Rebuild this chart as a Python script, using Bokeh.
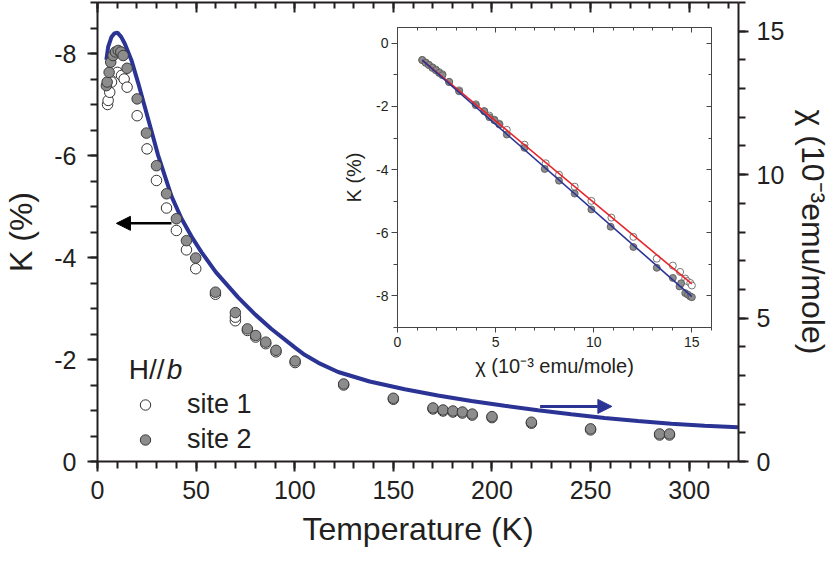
from bokeh.plotting import figure
from bokeh.models import (Range1d, LinearAxis, SingleIntervalTicker, Arrow,
                          NormalHead, Label, Legend, LegendItem, PrintfTickFormatter)
from bokeh.embed import file_html
from bokeh.resources import INLINE

FONT = "Liberation Sans"
TXT = "#231F20"
BLUE = "#2B3494"
RED = "#E8252A"
GRAY = "#8C8C8C"

# ---------------- main plot data ----------------
T_site1 = [5.1, 5.4, 6.2, 7.1, 10.1, 12.2, 13.5, 15.0, 20.1, 25.1, 29.9, 35.0, 40.0,
           45.1, 49.8, 59.8, 69.9, 69.9, 76.0, 80.2, 85.3, 90.5, 100.2, 124.8, 150.0,
           170.1, 175.2, 180.2, 185.0, 190.0, 200.0, 220.0, 250.0, 285.0, 290.0]
K_site1 = [-7.00, -7.08, -7.24, -7.44, -7.63, -7.57, -7.50, -7.34, -6.78, -6.13, -5.51,
           -4.97, -4.53, -4.15, -3.78, -3.28, -2.76, -2.83, -2.57, -2.44, -2.31, -2.15,
           -1.94, -1.50, -1.22, -1.03, -0.99, -0.97, -0.95, -0.91, -0.86, -0.75, -0.62,
           -0.52, -0.52]

T_site2 = [4.5, 4.9, 5.9, 6.7, 7.9, 9.1, 10.5, 11.8, 13.0, 15.0, 20.1, 24.8, 29.9, 35.0,
           40.0, 45.1, 49.8, 59.8, 69.9, 76.0, 80.2, 85.3, 90.5, 100.2, 124.8, 150.0,
           170.1, 175.2, 180.2, 185.0, 190.0, 200.0, 220.0, 250.0, 285.0, 290.0]
K_site2 = [-7.37, -7.44, -7.63, -7.83, -7.96, -8.03, -8.06, -8.03, -7.96, -7.71, -7.11,
           -6.44, -5.80, -5.25, -4.76, -4.33, -3.99, -3.32, -2.92, -2.60, -2.47, -2.34,
           -2.18, -1.97, -1.52, -1.24, -1.05, -1.01, -0.99, -0.97, -0.93, -0.88, -0.77,
           -0.64, -0.54, -0.54]

T_chi = [4.5, 5.4, 7.1, 8.5, 10.1, 12.0, 13.8, 17.2, 20.6, 24.0, 28.2, 30.7, 37.5, 42.5,
         47.6, 52.7, 60.0, 71.3, 80.0, 88.2, 100.0, 105.0, 112.0, 122.0, 138.0, 155.8,
         172.6, 189.6, 206.4, 223.3, 240.2, 257.1, 274.0, 290.9, 307.8, 324.7]
chi_T = [14.00, 14.45, 14.80, 14.92, 14.95, 14.80, 14.57, 13.99, 13.20, 12.36, 11.31,
         10.68, 9.25, 8.48, 7.85, 7.30, 6.60, 5.72, 5.12, 4.62, 3.98, 3.72, 3.44, 3.12,
         2.79, 2.52, 2.30, 2.11, 1.94, 1.79, 1.65, 1.52, 1.41, 1.32, 1.25, 1.19]

# ---------------- inset data ----------------
chi_site1 = [1.26, 1.44, 1.60, 1.78, 1.95, 2.12, 2.29, 2.63, 3.14, 3.99, 4.42, 4.68, 4.94,
             5.19, 5.57, 6.47, 7.55, 8.23, 9.03, 9.88, 10.90, 12.02, 13.21, 14.03, 14.40,
             14.66, 14.76, 14.92, 15.00]
Kin_site1 = [-0.53, -0.61, -0.68, -0.76, -0.83, -0.91, -0.98, -1.23, -1.49, -1.93, -2.15,
             -2.29, -2.42, -2.55, -2.74, -3.21, -3.80, -4.16, -4.54, -4.99, -5.52, -6.13,
             -6.82, -7.04, -7.24, -7.45, -7.53, -7.59, -7.67]
chi_site2 = [1.26, 1.44, 1.60, 1.78, 1.95, 2.12, 2.29, 2.63, 3.14, 3.99, 4.42, 4.68, 4.94,
             5.19, 5.57, 6.47, 7.50, 8.23, 9.03, 9.88, 10.86, 12.02, 13.21, 14.03, 14.37,
             14.45, 14.66, 14.80, 14.92, 15.00]
Kin_site2 = [-0.53, -0.62, -0.69, -0.78, -0.85, -0.94, -1.01, -1.22, -1.52, -1.96, -2.15,
             -2.34, -2.44, -2.57, -2.89, -3.31, -3.98, -4.35, -4.76, -5.26, -5.81, -6.45,
             -7.11, -7.43, -7.70, -7.60, -7.91, -7.96, -8.02, -8.04]
fit_chi = [1.26, 15.0]
fit_site1 = [-0.53, -7.62]
fit_site2 = [-0.53, -8.02]


def style_axis(ax, tick_font, label_font, lw, major_out, minor_out,
               major_in=0, minor_in=0, color=TXT, standoff=8, label_standoff=8):
    ax.axis_line_width = lw
    ax.axis_line_color = color
    ax.major_tick_line_width = lw
    ax.minor_tick_line_width = lw
    ax.major_tick_line_color = color
    ax.minor_tick_line_color = color
    ax.major_tick_out = major_out
    ax.major_tick_in = major_in
    ax.minor_tick_out = minor_out
    ax.minor_tick_in = minor_in
    ax.major_label_text_font = FONT
    ax.major_label_text_font_size = tick_font
    ax.major_label_text_color = TXT
    ax.major_label_standoff = standoff
    ax.axis_label_text_font = FONT
    ax.axis_label_text_font_size = label_font
    ax.axis_label_text_font_style = "normal"
    ax.axis_label_text_color = TXT
    ax.axis_label_standoff = label_standoff


def blank_axis(ax, lw, major_in, minor_in, color=TXT):
    style_axis(ax, "1px", "1px", lw, 0, 0, major_in, minor_in, color, 0, 0)
    ax.major_label_text_color = None


# ---------------- main figure ----------------
p = figure(frame_width=641, frame_height=459, output_backend="svg", toolbar_location=None,
           x_range=Range1d(0, 325), y_range=Range1d(0, -9),
           min_border_left=92, min_border_right=91, min_border_top=2,
           min_border_bottom=92,
           x_axis_label="Temperature (K)", y_axis_label="K (%)")
p.extra_y_ranges = {"chi": Range1d(0, 16)}
p.grid.visible = False
p.outline_line_color = None
p.background_fill_color = "white"
p.border_fill_color = "white"

p.xaxis.ticker = SingleIntervalTicker(interval=50, num_minor_ticks=5)
p.yaxis.ticker = SingleIntervalTicker(interval=2, num_minor_ticks=4)
p.yaxis.formatter = PrintfTickFormatter(format="%d")
style_axis(p.xaxis[0], "25px", "32px", 2, 10, 7, standoff=9, label_standoff=9)
style_axis(p.yaxis[0], "25px", "32px", 2, 10, 7, standoff=11, label_standoff=12)

right = LinearAxis(y_range_name="chi", axis_label="χ (10⁻³emu/mole)",
                   ticker=SingleIntervalTicker(interval=5, num_minor_ticks=5))
style_axis(right, "25px", "32px", 2, 10, 7, standoff=8, label_standoff=8)
p.add_layout(right, "right")

top = LinearAxis(ticker=SingleIntervalTicker(interval=50, num_minor_ticks=5))
blank_axis(top, 2, 10, 6)
p.add_layout(top, "above")

p.line(T_chi, chi_T, y_range_name="chi", line_width=4, color=BLUE)
r1 = p.scatter(T_site1, K_site1, size=10.5, fill_color="white",
               line_color="#333333", line_width=1)
r2 = p.scatter(T_site2, K_site2, size=10.5, fill_color=GRAY,
               line_color="#3C3C3C", line_width=1)

leg = Legend(items=[LegendItem(label="site 1", renderers=[r1]),
                    LegendItem(label="site 2", renderers=[r2])],
             location=(35, 6), background_fill_alpha=0, border_line_color=None,
             padding=0, margin=0, spacing=4, glyph_width=26, glyph_height=31,
             label_height=31, label_standoff=29, label_text_font_size="27px",
             label_text_font=FONT, label_text_color=TXT)
p.add_layout(leg)

p.add_layout(Label(x=15.9, y=-1.8, text="H//", text_font=FONT, text_font_size="28px",
                   text_color=TXT, text_baseline="alphabetic"))
p.add_layout(Label(x=15.9, y=-1.8, x_offset=38, text="b", text_font=FONT,
                   text_font_size="28px", text_font_style="italic",
                   text_color=TXT, text_baseline="alphabetic"))

p.add_layout(Arrow(x_start=37.5, y_start=-4.67, x_end=9.6, y_end=-4.67,
                   line_width=2.5, line_color="black",
                   end=NormalHead(size=14, fill_color="black", line_color="black")))
p.add_layout(Arrow(x_start=224.4, y_start=-1.08, x_end=260.8, y_end=-1.08,
                   line_width=3, line_color=BLUE,
                   end=NormalHead(size=14, fill_color=BLUE, line_color=BLUE)))

# ---------------- inset figure ----------------
ins = figure(frame_width=314, frame_height=300, output_backend="svg",
             toolbar_location=None,
             x_range=Range1d(0, 16), y_range=Range1d(-9, 0.5),
             min_border_left=55, min_border_right=3, min_border_top=2,
             min_border_bottom=55,
             x_axis_label="χ (10⁻³ emu/mole)", y_axis_label="K (%)")
ins.styles = {"position": "absolute", "left": "340px", "top": "25px"}
ins.border_fill_color = None
ins.background_fill_color = "white"
ins.grid.visible = False
ins.outline_line_color = None

ins.xaxis.ticker = SingleIntervalTicker(interval=5, num_minor_ticks=5)
ins.yaxis.ticker = SingleIntervalTicker(interval=2, num_minor_ticks=2)
ins.yaxis.formatter = PrintfTickFormatter(format="%d")
AX = "#444444"
style_axis(ins.xaxis[0], "14px", "20px", 1, 5, 3, color=AX, standoff=4, label_standoff=5)
style_axis(ins.yaxis[0], "14px", "20px", 1, 6, 4, color=AX, standoff=3, label_standoff=8)
itop = LinearAxis(ticker=SingleIntervalTicker(interval=5, num_minor_ticks=5))
blank_axis(itop, 1, 5, 3, AX)
ins.add_layout(itop, "above")
iright = LinearAxis(ticker=SingleIntervalTicker(interval=2, num_minor_ticks=2))
blank_axis(iright, 1, 5, 3, AX)
ins.add_layout(iright, "right")

ins.scatter(chi_site1, Kin_site1, size=7, fill_color="white", line_color="#555555",
            line_width=0.8)
ins.scatter(chi_site2, Kin_site2, size=7, fill_color=GRAY, line_color="#555555",
            line_width=0.8)
ins.line(fit_chi, fit_site1, color=RED, line_width=1.6)
ins.line(fit_chi, fit_site2, color=BLUE, line_width=1.6)

open("out.html", "w").write(file_html([p, ins], INLINE))
